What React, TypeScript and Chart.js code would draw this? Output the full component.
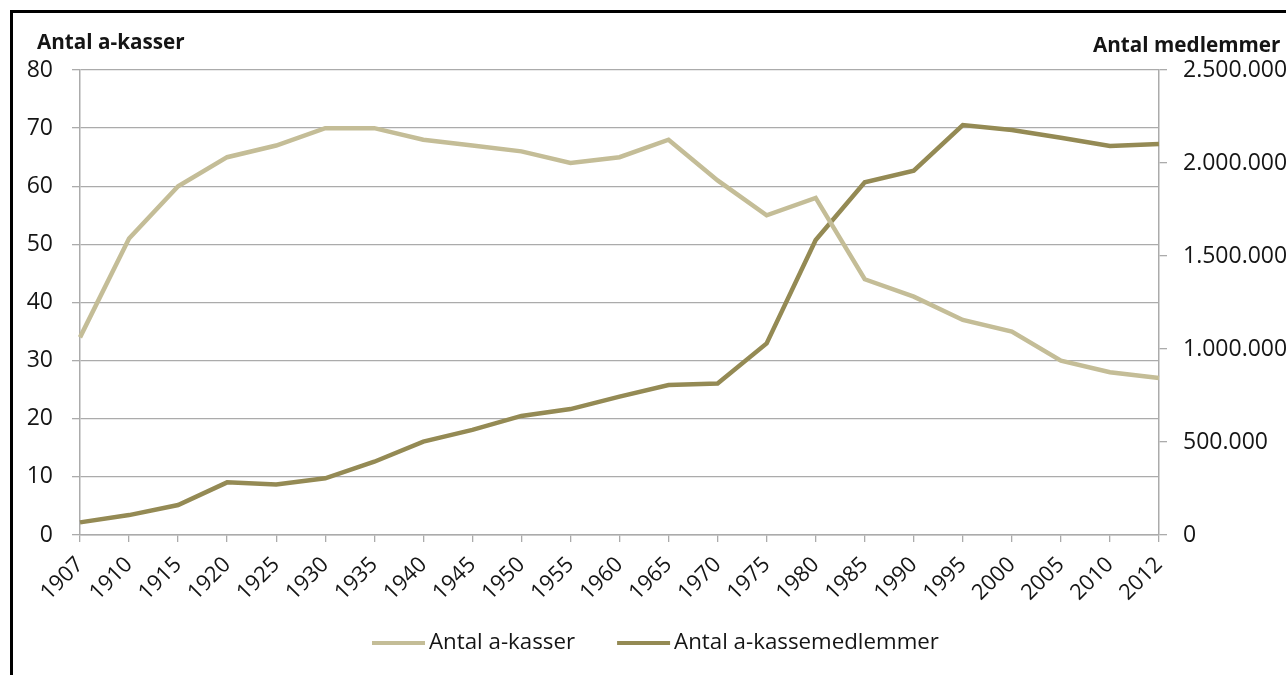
import React, { useEffect, useRef } from 'react';
import { Chart, registerables } from 'chart.js';

Chart.register(...registerables);

const years = ['1907', '1910', '1915', '1920', '1925', '1930', '1935', '1940', '1945', '1950', '1955', '1960', '1965', '1970', '1975', '1980', '1985', '1990', '1995', '2000', '2005', '2010', '2012'];
const antalAKasser = [34, 51, 60, 65, 67, 70, 70, 68, 67, 66, 64, 65, 68, 61, 55, 58, 44, 41, 37, 35, 30, 28, 27];
const antalMedlemmer = [68000, 107000, 161000, 283000, 272000, 305000, 394000, 502000, 565000, 640000, 677000, 744000, 806000, 815000, 1030000, 1586000, 1896000, 1959000, 2204000, 2177000, 2136000, 2091000, 2102000];

const leftTitle = 'Antal a-kasser';
const rightTitle = 'Antal medlemmer';
const seriesLabels = ['Antal a-kasser', 'Antal a-kassemedlemmer'];

const LIGHT = '#C4BD97';
const DARK = '#948A54';
const GRID = '#ABABAB';
const TEXT = '#151515';
const FONT = '"Open Sans", "Noto Sans", sans-serif';

function fmtDK(v: number | string): string {
  return String(Math.round(Number(v))).replace(/\B(?=(\d{3})+(?!\d))/g, '.');
}

function fitSize(text: string, target: number, weight: string): number {
  const c = document.createElement('canvas').getContext('2d') as CanvasRenderingContext2D;
  c.font = `${weight} 100px ${FONT}`;
  const w = c.measureText(text).width || 100;
  return Math.round((1000 * target) / w) / 10;
}

export default function App() {
  const ref = useRef<HTMLCanvasElement>(null);
  useEffect(() => {
    const titleSize = fitSize('Antal a-kasser', 148, 'bold');
    const legendSize = fitSize('Antal a-kassemedlemmer', 265, 'normal');
    const yTickSize = fitSize('500.000', 85, 'normal');
    const xTickSize = fitSize('1910', 50, 'normal');

    const decor = {
      id: 'decor',
      afterDraw(chart: any) {
        const ctx = chart.ctx as CanvasRenderingContext2D;
        const ca = chart.chartArea;
        ctx.save();
        ctx.fillStyle = TEXT;
        ctx.textBaseline = 'middle';
        ctx.textAlign = 'left';
        ctx.font = `bold ${titleSize}px ${FONT}`;
        ctx.fillText(leftTitle, 37, 43);
        ctx.fillText(rightTitle, 1093, 46);
        ctx.font = `${legendSize}px ${FONT}`;
        let x = ca.left + 292;
        const y = 643;
        chart.data.datasets.forEach((ds: any) => {
          ctx.strokeStyle = ds.borderColor;
          ctx.lineWidth = 4;
          ctx.beginPath();
          ctx.moveTo(x, y);
          ctx.lineTo(x + 53, y);
          ctx.stroke();
          x += 57;
          ctx.fillStyle = TEXT;
          ctx.fillText(ds.label, x, y);
          x += ctx.measureText(ds.label).width + 42;
        });
        ctx.restore();
      },
    };

    const chart = new Chart(ref.current as HTMLCanvasElement, {
      type: 'line',
      data: {
        labels: years,
        datasets: [
          {
            label: seriesLabels[0],
            data: antalAKasser,
            borderColor: LIGHT,
            backgroundColor: LIGHT,
            borderWidth: 4.5,
            yAxisID: 'y',
            pointRadius: 0,
            tension: 0,
          },
          {
            label: seriesLabels[1],
            data: antalMedlemmer,
            borderColor: DARK,
            backgroundColor: DARK,
            borderWidth: 4.5,
            yAxisID: 'y1',
            pointRadius: 0,
            tension: 0,
          },
        ],
      },
      options: {
        responsive: false,
        animation: false,
        events: [],
        layout: { padding: { left: 0, right: 0, top: 70, bottom: 0 } },
        plugins: {
          legend: { display: false },
          tooltip: { enabled: false },
        },
        scales: {
          x: {
            type: 'category',
            offset: false,
            grid: { drawOnChartArea: false, drawTicks: true, tickLength: 7, color: GRID, lineWidth: 1.3 },
            border: { color: GRID, width: 1.5 },
            ticks: {
              autoSkip: false,
              maxRotation: 45,
              minRotation: 45,
              padding: 10,
              color: TEXT,
              font: { size: xTickSize, family: FONT },
            },
            afterFit: (s: any) => {
              s.height = 140;
            },
          },
          y: {
            position: 'left',
            min: 0,
            max: 80,
            grid: { color: GRID, lineWidth: 1.3, tickLength: 8 },
            border: { color: GRID, width: 1.5 },
            ticks: { stepSize: 10, padding: 19, color: TEXT, font: { size: yTickSize, family: FONT } },
            afterFit: (s: any) => {
              s.width = 80;
            },
          },
          y1: {
            position: 'right',
            min: 0,
            max: 2500000,
            grid: { drawOnChartArea: false, color: GRID, lineWidth: 1.3, tickLength: 8 },
            border: { color: GRID, width: 1.5 },
            ticks: {
              stepSize: 500000,
              padding: 16,
              color: TEXT,
              font: { size: yTickSize, family: FONT },
              callback: (v: any) => fmtDK(v),
            },
            afterFit: (s: any) => {
              s.width = 171;
            },
          },
        },
      } as any,
      plugins: [decor],
    });
    return () => chart.destroy();
  }, []);

  return (
    <div style={{ position: 'fixed', inset: 0, overflow: 'hidden', background: '#fff' }}>
      <div
        style={{
          position: 'absolute',
          left: 10,
          top: 10,
          width: 1400,
          height: 800,
          border: '3px solid #000',
          boxSizing: 'border-box',
        }}
      />
      <canvas
        ref={ref}
        width={1330}
        height={675}
        style={{ position: 'absolute', left: 0, top: 0, width: 1330, height: 675 }}
      />
    </div>
  );
}
